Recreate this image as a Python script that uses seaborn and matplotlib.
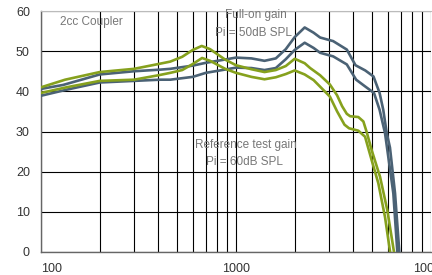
import pandas as pd
import seaborn as sns
import matplotlib.pyplot as plt
from matplotlib.ticker import FixedLocator, NullFormatter

# full-on gain (Pi = 50dB SPL), two blue curves
full_hi_freq = [100, 130, 200, 300, 408, 460, 600, 700, 850, 1000, 1200, 1400, 1600, 1800,
                2000, 2250, 2500, 2700, 3150, 3700, 4100, 4600, 5070, 5450, 5690, 5930, 6160, 6540, 6880]
full_hi_db = [40.6, 41.6, 44.2, 45.0, 45.4, 45.6, 46.4, 47.1, 47.8, 48.4, 48.2, 47.6, 48.2, 50.5,
              53.5, 55.9, 54.6, 53.4, 52.5, 50.4, 46.5, 45.2, 43.7, 39.6, 35.4, 29.6, 26.0, 14.6, 0.0]

full_lo_freq = [100, 135, 200, 300, 408, 460, 600, 700, 850, 1000, 1200, 1400, 1600, 1800,
                2000, 2250, 2500, 2700, 3150, 3700, 4130, 4600, 5100, 5450, 5810, 6410, 6720]
full_lo_db = [38.9, 40.4, 42.2, 42.6, 42.9, 42.9, 43.6, 44.6, 45.3, 45.9, 45.8, 45.3, 45.8, 48.0,
              50.3, 52.1, 50.8, 49.6, 48.7, 46.7, 42.9, 41.2, 39.6, 35.4, 29.6, 14.6, 0.0]

# reference test gain (Pi = 60dB SPL), two green curves
ref_hi_freq = [100, 133, 200, 300, 400, 460, 530, 600, 667, 736, 880, 1000, 1200, 1400, 1600,
               1800, 2000, 2250, 2400, 2700, 3030, 3300, 3500, 3700, 3850, 4240, 4500, 4690, 4960,
               5480, 5970, 6460]
ref_hi_db = [41.0, 42.9, 44.8, 45.6, 46.8, 47.4, 48.6, 50.3, 51.3, 50.5, 47.9, 46.5, 45.5, 44.8, 45.3,
             46.3, 48.1, 47.0, 45.8, 44.0, 41.7, 39.0, 36.3, 34.4, 33.8, 33.6, 32.5, 29.7, 25.4,
             18.7, 10.4, 0.0]

ref_lo_freq = [100, 135, 200, 300, 400, 460, 530, 600, 670, 736, 880, 1000, 1200, 1400, 1600,
               1800, 2000, 2250, 2500, 3030, 3300, 3600, 3800, 4240, 4590, 4960, 5370, 5810, 6170]
ref_lo_db = [39.6, 41.0, 42.6, 42.9, 44.0, 44.6, 45.3, 46.8, 48.3, 47.6, 45.6, 44.6, 43.6, 43.0, 43.5,
             44.3, 45.2, 44.2, 42.8, 38.7, 35.0, 31.7, 30.8, 30.2, 28.7, 22.9, 17.1, 8.7, 0.0]

x_major = [100, 1000, 10000]
x_major_labels = ["100", "1000", "10000"]
x_minor = [m * d for d in (100, 1000) for m in range(2, 10)]
y_ticks = [0, 10, 20, 30, 40, 50, 60]

blue = "#4b6275"
green = "#86a11d"

sns.set_style("white")
plt.rcParams['font.family'] = ['Liberation Sans', 'DejaVu Sans']

fig = plt.figure(figsize=(4.32, 2.75), dpi=100)
ax = fig.add_axes([41 / 432, 1 - 252 / 275, 390 / 432, 241 / 275])

series = [
    (full_hi_freq, full_hi_db, blue),
    (full_lo_freq, full_lo_db, blue),
    (ref_hi_freq, ref_hi_db, green),
    (ref_lo_freq, ref_lo_db, green),
]
for freq, db, col in series:
    df = pd.DataFrame({"freq": freq, "db": db})
    sns.lineplot(data=df, x="freq", y="db", color=col, linewidth=1.9,
                 sort=False, estimator=None, ax=ax, zorder=3)

ax.set_xscale("log")
ax.set_xlim(100, 10000)
ax.set_ylim(0, 60)
ax.xaxis.set_major_locator(FixedLocator(x_major))
ax.xaxis.set_minor_locator(FixedLocator(x_minor))
ax.xaxis.set_minor_formatter(NullFormatter())
ax.set_xticklabels(x_major_labels)
ax.set_yticks(y_ticks)
ax.set_xlabel("")
ax.set_ylabel("")

ax.grid(True, which="both", axis="x", color="black", linewidth=0.8)
ax.grid(True, which="major", axis="y", color="black", linewidth=0.8)
ax.set_axisbelow(True)
ax.tick_params(axis="both", which="both", length=0, labelsize=9, colors="#333333")
ax.tick_params(axis="x", pad=8)
ax.tick_params(axis="y", pad=8)
ax.get_xticklabels()[0].set_ha("left")

for side in ["left", "bottom"]:
    ax.spines[side].set_color("#666666")
    ax.spines[side].set_linewidth(1.0)
ax.spines["top"].set_color("#bbbbbb")
ax.spines["right"].set_visible(False)

txt = dict(color="#777777", fontsize=8.5, ha="center", va="center")
ax.text(0.05, 0.955, "2cc Coupler", transform=ax.transAxes, color="#777777",
        fontsize=8.5, ha="left", va="center")
ax.text(1260, 59.0, "Full-on gain", **txt)
ax.text(1230, 54.6, "Pi = 50dB SPL", **txt)
ax.text(1120, 26.6, "Reference test gain", **txt)
ax.text(1110, 22.3, "Pi = 60dB SPL", **txt)

plt.savefig("out.png", dpi=100)
plt.close()
